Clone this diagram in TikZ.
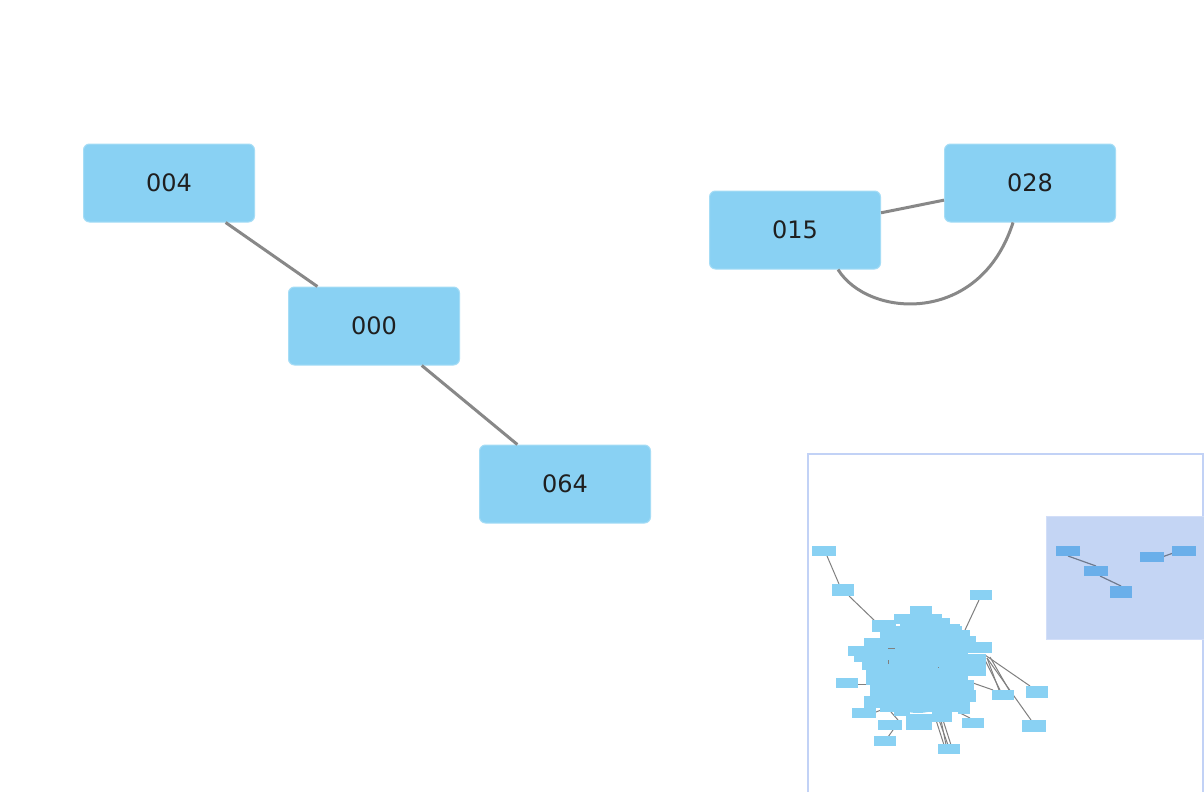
\documentclass[tikz,border=0pt]{standalone}
\usepackage{fontspec}
\setmainfont{DejaVu Sans}
\definecolor{nodeblue}{HTML}{89D1F3}
\definecolor{nodeedge}{HTML}{A6DDF6}
\definecolor{linkgray}{HTML}{888888}
\definecolor{frameblue}{HTML}{C2D2F6}
\definecolor{viewfill}{HTML}{C4D5F4}
\definecolor{viewedge}{HTML}{D2DEF8}
\definecolor{viewnode}{HTML}{6AAFEA}
\definecolor{viewlink}{HTML}{6E7A8E}
\definecolor{minigray}{HTML}{808080}
\begin{document}
\begin{tikzpicture}[x=1pt,y=-1pt,
  box/.style={rounded corners=6pt, fill=nodeblue, draw=nodeedge, line width=1pt,
    minimum width=171pt, minimum height=78pt, inner sep=0pt,
    font=\fontsize{24}{28}\selectfont, text=black!88},
  link/.style={draw=linkgray, line width=3pt},
  mini/.style={fill=nodeblue},
  minilink/.style={draw=minigray, line width=1pt},
  vnode/.style={fill=viewnode},
  vlink/.style={draw=viewlink, line width=1.2pt}]
\useasboundingbox (0,0) rectangle (1204,792);
\fill[white] (0,0) rectangle (1204,792);

% main nodes
\node[box] (n004) at (169,183) {004};
\node[box] (n000) at (374,326) {000};
\node[box] (n064) at (565,484) {064};
\node[box] (n015) at (795,230) {015};
\node[box] (n028) at (1030,183) {028};

% connectors
\draw[link] (n004) -- (n000);
\draw[link] (n000) -- (n064);
\draw[link] (n015) -- (n028);
\draw[link] ([xshift=43pt]n015.south) .. controls (868,318) and (980,326) .. ([xshift=-17pt]n028.south);

% minimap frame
\draw[frameblue, line width=2pt] (808,792) -- (808,454) -- (1203,454) -- (1203,792);
% viewport
\fill[viewfill] (1046,516) rectangle (1204,639);
\draw[viewedge, line width=1pt] (1204,516) -- (1046.5,516) -- (1046.5,639) -- (1204,639);

% viewport links and nodes
\draw[vlink] (1068,556) -- (1096,566);
\draw[vlink] (1100,576) -- (1121,586);
\draw[vlink] (1162,557) -- (1176,552);
\fill[vnode] (1056,546) rectangle (1080,556);
\fill[vnode] (1084,566) rectangle (1108,576);
\fill[vnode] (1110,586) rectangle (1132,598);
\fill[vnode] (1140,552) rectangle (1164,562);
\fill[vnode] (1172,546) rectangle (1196,556);

% minimap links
\draw[minilink] (827,556) -- (839,584);
\draw[minilink] (849,596) -- (876,622);
\draw[minilink] (979,600) -- (965,630);
\draw[minilink] (985,655) -- (1030,686);
\draw[minilink] (987,658) -- (1031,720);
\draw[minilink] (987,658) -- (999,690);
\draw[minilink] (990,657) -- (1009,690);
\draw[minilink] (983,656) -- (1000,690);
\draw[minilink] (973,683) -- (993,690);
\draw[minilink] (936,720) -- (944,745);
\draw[minilink] (939,720) -- (948,745);
\draw[minilink] (943,720) -- (951,745);
\draw[minilink] (941,720) -- (946,745);
\draw[minilink] (893,730) -- (888,737);
\draw[minilink] (857,684) -- (868,684);
\draw[minilink] (876,712) -- (886,708);
\draw[minilink] (960,713) -- (970,718);
\draw[minilink] (891,712) -- (898,720);

% minimap outer nodes
\fill[mini] (812,546) rectangle (836,556);
\fill[mini] (832,584) rectangle (854,596);
\fill[mini] (970,590) rectangle (992,600);
\fill[mini] (966,642) rectangle (992,653);
\fill[mini] (1026,686) rectangle (1048,698);
\fill[mini] (992,690) rectangle (1014,700);
\fill[mini] (1022,720) rectangle (1046,732);
\fill[mini] (962,718) rectangle (984,728);
\fill[mini] (938,744) rectangle (960,754);
\fill[mini] (874,736) rectangle (896,746);
\fill[mini] (878,720) rectangle (902,730);
\fill[mini] (852,708) rectangle (876,718);
\fill[mini] (836,678) rectangle (858,688);

% blob
\fill[mini] (918,668) ellipse [x radius=46, y radius=45];
\foreach \a/\b/\c/\d in {
  910/606/932/616, 894/614/942/624, 872/620/896/632, 900/618/950/630,
  942/624/960/634, 950/630/970/642, 864/638/890/646, 848/646/873/656,
  854/656/878/662, 862/662/880/670, 966/654/986/676, 866/670/882/685,
  962/680/974/698, 864/696/882/708, 894/706/910/716, 958/702/970/714,
  906/714/932/730, 932/712/952/722, 880/626/962/712, 870/640/968/700,
  956/636/976/650, 960/690/976/702, 882/700/900/712}
  \fill[mini] (\a,\b) rectangle (\c,\d);
\draw[minilink] (888,648) -- (895,648);
\draw[minilink] (888,660) -- (888,664);
\draw[minilink] (938,667) -- (939,667);
\end{tikzpicture}
\end{document}
